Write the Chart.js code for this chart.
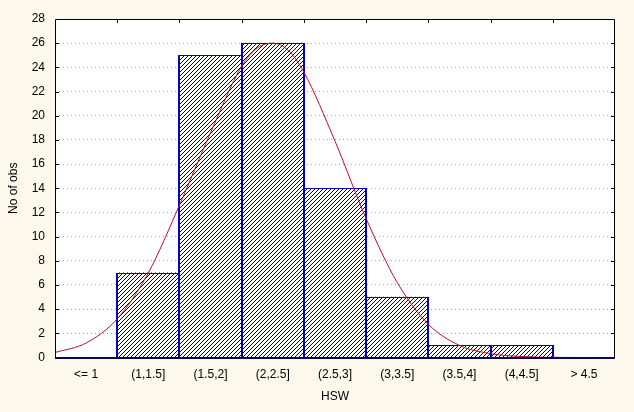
<!DOCTYPE html>
<html>
<head>
<meta charset="utf-8">
<script src="https://cdn.jsdelivr.net/npm/chart.js@4.4.1/dist/chart.umd.min.js"></script>
<style>
html,body{margin:0;padding:0;background:#FCF8EC;}
#wrap{width:634px;height:412px;}
</style>
</head>
<body>
<div id="wrap"><canvas id="c" width="634" height="412"></canvas></div>
<script>
// ---- data ----
const categories = ['<= 1','(1,1.5]','(1.5,2]','(2,2.5]','(2.5,3]','(3,3.5]','(3.5,4]','(4,4.5]','> 4.5'];
const counts = [0, 7, 25, 26, 14, 5, 1, 1, 0];
// fitted normal curve (x in HSW units, y in obs)
const curveX = [0.5, 0.75, 1.0, 1.25, 1.5, 1.75, 2.0, 2.125, 2.25, 2.375, 2.5, 2.75, 3.0, 3.25, 3.5, 3.75, 4.0, 4.25, 4.5, 4.75, 5.0];
const curveY = [0.41, 1.2, 3.2, 7.0, 12.6, 18.6, 24.1, 25.6, 26.0, 25.4, 23.6, 17.9, 11.5, 6.2, 2.75, 1.0, 0.32, 0.08, 0.01, 0, 0];
const yMin = 0, yMax = 28, yStep = 2;
const xTitle = 'HSW';
const yTitle = 'No of obs';

// ---- styles ----
const FONT = "Arial, 'Liberation Sans', sans-serif";
function makeHatch() {
  const p = document.createElement('canvas');
  p.width = 4; p.height = 4;
  const g = p.getContext('2d');
  g.fillStyle = '#ffffff'; g.fillRect(0,0,4,4);
  g.fillStyle = '#00007A';
  for (let i = 0; i < 4; i++) g.fillRect(i, 3 - i, 1, 1);
  return g.createPattern(p, 'repeat');
}
const ctx = document.getElementById('c').getContext('2d');
const hatch = makeHatch();

const framePlugin = {
  id: 'frame',
  beforeDraw(chart) {
    const c = chart.ctx, a = chart.chartArea;
    c.save();
    c.fillStyle = '#FCF8EC';
    c.fillRect(0, 0, chart.width, chart.height);
    c.fillStyle = '#ffffff';
    c.fillRect(a.left, a.top, a.right - a.left, a.bottom - a.top);
    c.restore();
  },
  afterDatasetDraw(chart, args) {
    if (args.meta.type !== 'bar') return;
    const c = chart.ctx;
    c.save();
    c.strokeStyle = '#0000C8';
    args.meta.data.forEach((el, i) => {
      if (!counts[i]) return;
      const p = el.getProps(['x','y','base','width'], true);
      const l = Math.round(p.x - p.width / 2), r = Math.round(p.x + p.width / 2);
      const t = Math.round(p.y), b = p.base;
      c.lineWidth = 2;
      c.beginPath();
      c.moveTo(l, t); c.lineTo(l, b);
      c.moveTo(r, t); c.lineTo(r, b);
      c.stroke();
      c.lineWidth = 1;
      c.beginPath();
      c.moveTo(l, t + 0.5); c.lineTo(r, t + 0.5);
      c.stroke();
    });
    c.restore();
  },
  afterDraw(chart) {
    const c = chart.ctx, a = chart.chartArea;
    const ys = chart.scales.y, xs = chart.scales.x;
    c.save();
    c.strokeStyle = '#000000';
    c.lineWidth = 1;
    c.beginPath();
    c.moveTo(Math.round(a.left) + 0.5, a.bottom);
    c.lineTo(Math.round(a.left) + 0.5, Math.round(a.top) + 0.5);
    c.lineTo(Math.round(a.right) - 0.5, Math.round(a.top) + 0.5);
    c.lineTo(Math.round(a.right) - 0.5, a.bottom);
    c.stroke();
    c.beginPath();
    for (let v = yMin + yStep; v < yMax; v += yStep) {
      const y = Math.round(ys.getPixelForValue(v)) + 0.5;
      c.moveTo(a.left, y); c.lineTo(a.left + 4, y);
      c.moveTo(a.right - 4, y); c.lineTo(a.right, y);
    }
    for (let i = 1; i < categories.length; i++) {
      const x = Math.round((xs.getPixelForValue(i - 1) + xs.getPixelForValue(i)) / 2) + 0.5;
      c.moveTo(x, a.top); c.lineTo(x, a.top + 4);
    }
    c.stroke();
    c.strokeStyle = '#0A0A50';
    c.lineWidth = 2;
    c.beginPath();
    c.moveTo(a.left, Math.round(a.bottom));
    c.lineTo(a.right, Math.round(a.bottom));
    c.stroke();
    c.restore();
  }
};

new Chart(ctx, {
  type: 'bar',
  data: {
    labels: categories,
    datasets: [
      {
        type: 'bar',
        data: counts,
        xAxisID: 'x',
        yAxisID: 'y',
        backgroundColor: hatch,
        borderWidth: 0,
        barPercentage: 1,
        categoryPercentage: 1,
        grouped: false,
        order: 1
      },
      {
        type: 'line',
        data: curveX.map((x, i) => ({x: x, y: curveY[i]})),
        xAxisID: 'x2',
        yAxisID: 'y',
        borderColor: '#B8102C',
        borderWidth: 1,
        pointRadius: 0,
        fill: false,
        cubicInterpolationMode: 'monotone',
        order: 0
      }
    ]
  },
  options: {
    responsive: false,
    animation: false,
    devicePixelRatio: 1,
    layout: { padding: { left: 0, top: 19, right: 19, bottom: 0 } },
    plugins: { legend: { display: false }, tooltip: { enabled: false } },
    scales: {
      x: {
        type: 'category',
        offset: true,
        grid: { display: false, drawTicks: false },
        border: { display: false },
        ticks: { color: '#000', font: { family: FONT, size: 12 }, padding: 10, maxRotation: 0, autoSkip: false },
        title: { display: true, text: xTitle, color: '#000', font: { family: FONT, size: 12 }, padding: { top: 0, bottom: 8 } },
        afterFit(s) { s.height = 54.5; }
      },
      x2: {
        type: 'linear',
        display: false,
        offset: false,
        min: 0.5,
        max: 5.0
      },
      y: {
        min: yMin,
        max: yMax,
        ticks: { stepSize: yStep, color: '#000', font: { family: FONT, size: 12 }, padding: 10 },
        grid: {
          drawTicks: false,
          color: (c) => (c.tick && (c.tick.value === yMin || c.tick.value === yMax)) ? 'rgba(0,0,0,0)' : '#A8A8A8',
          lineWidth: 1
        },
        border: { display: false, dash: [1, 3] },
        title: { display: true, text: yTitle, color: '#000', font: { family: FONT, size: 12 }, padding: { top: 6, bottom: 0 } },
        afterFit(s) { s.width = 55; }
      }
    }
  },
  plugins: [framePlugin]
});
</script>
</body>
</html>
